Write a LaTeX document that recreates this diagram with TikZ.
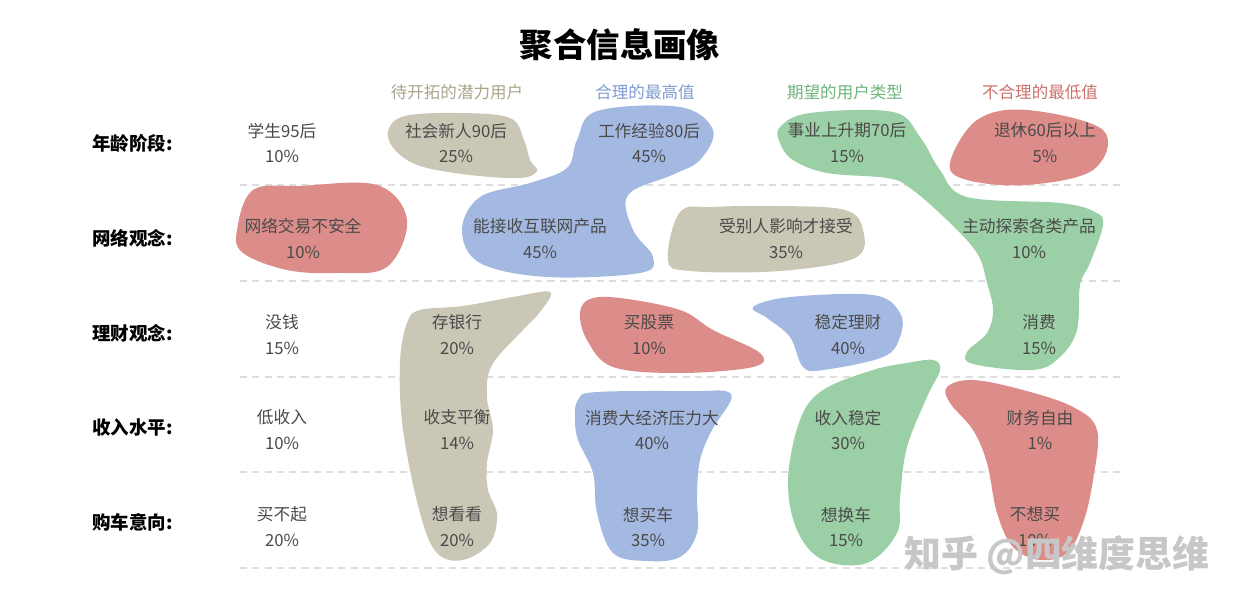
\documentclass[tikz,border=0pt]{standalone}
\usepackage{fontspec}
\newfontfamily\cjk{Noto Sans CJK SC}
\definecolor{blobTan}{HTML}{CBC7B7}
\definecolor{blobBlue}{HTML}{A4B9E2}
\definecolor{blobGreen}{HTML}{9BCFA5}
\definecolor{blobRed}{HTML}{DC8C89}
\definecolor{headTan}{HTML}{A9A48C}
\definecolor{headBlue}{HTML}{7E9BD3}
\definecolor{headGreen}{HTML}{6DB57A}
\definecolor{headRed}{HTML}{D0706C}
\definecolor{cellText}{HTML}{4A4A4A}
\definecolor{gridGray}{HTML}{DEDEDE}
\usetikzlibrary{positioning}

\begin{document}
\begin{tikzpicture}[x=0.02cm, y=-0.02cm,
        cell/.style={font=\cjk\fontsize{9.5}{14.7}\selectfont, text=cellText,
                     align=center, inner sep=0pt},
        rowlab/.style={font=\cjk\bfseries\fontsize{10.5}{12}\selectfont,
                       anchor=west, inner sep=0pt},
        colhead/.style={font=\cjk\fontsize{9.4}{12}\selectfont, inner sep=0pt},
        tanblob/.style={fill=blobTan},
        blueblob/.style={fill=blobBlue},
        greenblob/.style={fill=blobGreen},
        redblob/.style={fill=blobRed},
        sep/.style={draw=gridGray, dash pattern=on 4pt off 3pt, line width=0.6pt},
      ]
        \useasboundingbox[fill=white] (0,0) rectangle (1240,607);
        % linee di separazione
        \foreach \yy in {185,281,377,472,568}
          \draw[sep] (240,\yy) -- (1125,\yy);
        % macchie tan
        \fill[tanblob] plot[smooth cycle, tension=0.6] coordinates
          {(388,131) (405,116) (460,113) (510,118) (524,140) (530,160)
           (537,171) (520,178) (470,175) (420,166) (395,150)};
        \fill[tanblob] plot[smooth cycle, tension=0.6] coordinates
          {(680,212) (713,207) (780,206) (845,210) (863,230) (855,258)
           (780,271) (690,271) (668,260)};
        \fill[tanblob] plot[smooth cycle, tension=0.6] coordinates
          {(420,310) (463,306) (513,297) (550,292) (540,312) (523,330)
           (492,365) (487,397) (493,430) (487,463) (488,490) (497,515)
           (490,543) (463,560) (437,553) (420,513) (403,430) (400,363)
           (407,323)};
        % macchie blu
        \fill[blueblob] plot[smooth cycle, tension=0.6] coordinates
          {(577,140) (597,111) (680,107) (713,130) (700,160) (672,175)
           (628,195) (633,230) (653,257) (640,273) (547,277) (480,263)
           (462,230) (480,197) (530,183) (567,168)};
        \fill[blueblob] plot[smooth cycle, tension=0.6] coordinates
          {(753,307) (790,297) (873,295) (900,313) (900,337) (883,357)
           (823,370) (803,367) (790,337) (767,318)};
        \fill[blueblob] plot[smooth cycle, tension=0.6] coordinates
          {(578,400) (597,392) (700,391) (725,391) (731,400) (712,430)
           (700,460) (697,495) (697,533) (680,557) (647,561) (613,553)
           (597,513) (593,473) (578,440) (575,418)};
        % macchie verdi
        \fill[greenblob] plot[smooth cycle, tension=0.6] coordinates
          {(780,127) (810,113) (893,112) (920,137) (940,170) (967,197)
           (1060,203) (1095,212) (1103,225) (1090,263) (1080,285)
           (1077,330) (1060,357) (1033,370) (973,364) (967,352)
           (987,333) (993,310) (987,283) (977,253) (947,220) (910,188)
           (887,178) (827,173) (793,160) (780,143)};
        \fill[greenblob] plot[smooth cycle, tension=0.6] coordinates
          {(907,363) (933,360) (940,370) (927,397) (907,447) (900,497)
           (897,533) (867,563) (823,560) (797,530) (788,480) (800,420)
           (823,390) (873,370)};
        % macchie rosse
        \fill[redblob] plot[smooth cycle, tension=0.6] coordinates
          {(253,190) (300,186) (377,185) (407,220) (387,267) (337,273)
           (287,270) (243,253) (237,230)};
        \fill[redblob] plot[smooth cycle, tension=0.6] coordinates
          {(950,163) (977,120) (1027,110) (1103,130) (1093,170)
           (1027,185) (967,180)};
        \fill[redblob] plot[smooth cycle, tension=0.6] coordinates
          {(580,313) (590,299) (620,298) (680,310) (713,330) (760,353)
           (753,367) (680,373) (613,367) (587,340)};
        \fill[redblob] plot[smooth cycle, tension=0.6] coordinates
          {(947,387) (973,380) (1023,390) (1073,407) (1097,430)
           (1093,480) (1083,523) (1067,553) (1040,560) (1013,547)
           (997,513) (987,463) (973,430) (950,403)};
        % titolo e intestazioni
        \node[font=\cjk\bfseries\fontsize{19}{22}\selectfont, inner sep=0pt]
          (title) at (620,45) {聚合信息画像};
        \node[colhead, text=headTan] (hpot) at (457,92) {待开拓的潜力用户};
        \node[colhead, text=headBlue] (hmax) at (645,92) {合理的最高值};
        \node[colhead, text=headGreen] (hexp) at (845,92) {期望的用户类型};
        \node[colhead, text=headRed] (hmin) at (1040,92) {不合理的最低值};
        % etichette di riga
        \node[rowlab] (age) at (92,143) {年龄阶段:};
        \node[rowlab] (net) at (92,238) {网络观念:};
        \node[rowlab] (fin) at (92,333) {理财观念:};
        \node[rowlab] (inc) at (92,428) {收入水平:};
        \node[rowlab] (car) at (92,522) {购车意向:};
        % celle
        \node[cell] (age1) at (282,143) {学生95后\\10\%};
        \node[cell] (age2) at (456,143) {社会新人90后\\25\%};
        \node[cell] (age3) at (649,143) {工作经验80后\\45\%};
        \node[cell] (age4) at (847,143) {事业上升期70后\\15\%};
        \node[cell] (age5) at (1045,143) {退休60后以上\\5\%};
        \node[cell] (net1) at (303,238.5) {网络交易不安全\\10\%};
        \node[cell] (net2) at (540,238.5) {能接收互联网产品\\45\%};
        \node[cell] (net3) at (786,238.5) {受别人影响才接受\\35\%};
        \node[cell] (net4) at (1029,238.5) {主动探索各类产品\\10\%};
        \node[cell] (fin1) at (282,334.5) {没钱\\15\%};
        \node[cell] (fin2) at (457,334.5) {存银行\\20\%};
        \node[cell] (fin3) at (649,334.5) {买股票\\10\%};
        \node[cell] (fin4) at (848,334.5) {稳定理财\\40\%};
        \node[cell] (fin5) at (1039,334.5) {消费\\15\%};
        \node[cell] (inc1) at (282,430) {低收入\\10\%};
        \node[cell] (inc2) at (457,430) {收支平衡\\14\%};
        \node[cell] (inc3) at (652,430) {消费大经济压力大\\40\%};
        \node[cell] (inc4) at (848,430) {收入稳定\\30\%};
        \node[cell] (inc5) at (1040,430) {财务自由\\1\%};
        \node[cell] (car1) at (282,527) {买不起\\20\%};
        \node[cell] (car2) at (457,527) {想看看\\20\%};
        \node[cell] (car3) at (648,527) {想买车\\35\%};
        \node[cell] (car4) at (846,527) {想换车\\15\%};
        \node[cell] (car5) at (1035,527) {不想买\\10\%};
        % marchio
        \node[font=\cjk\bfseries\fontsize{21}{24}\selectfont, text=black!22,
              inner sep=0pt] (mark) at (1057,555) {知乎 @四维度思维};
      \end{tikzpicture}
\end{document}
